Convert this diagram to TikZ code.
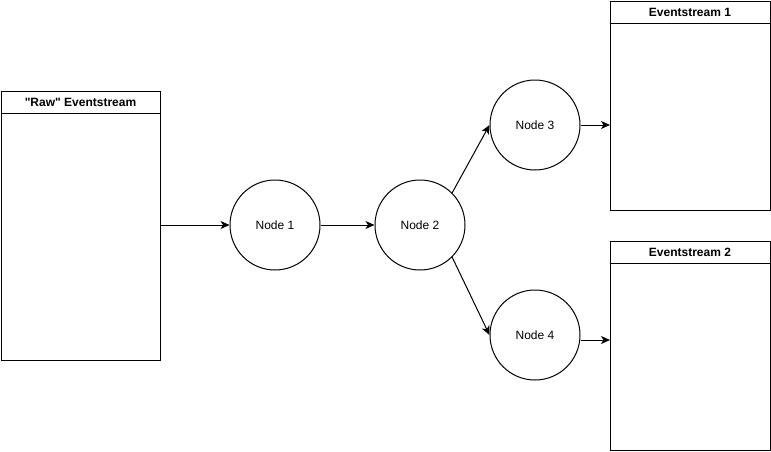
\documentclass[tikz,border=0pt]{standalone}
\usepackage{fontspec}
\setmainfont{Liberation Sans}[Ligatures=TeXOff]
\usetikzlibrary{arrows.meta,calc}
\tikzset{
  px/.style={x=1pt,y=-1pt},
  lw/.style={line width=1pt},
  circ/.style={circle,draw,lw,minimum size=90pt,inner sep=0pt,font=\fontsize{12}{14}\selectfont},
  boxframe/.style={draw,lw},
  hdr/.style={font=\bfseries\fontsize{12}{14}\selectfont,anchor=center},
  conn/.style={lw,-{Stealth[length=9pt,width=8pt,inset=2.5pt]}}
}
\begin{document}
\begin{tikzpicture}[px]
\useasboundingbox (0,0) rectangle (771,451);
% Raw eventstream
\draw[boxframe] (1,91) rectangle (160,360);
\draw[lw] (1,113) -- (160,113);
\node[hdr] (rawh) at (80.5,102) {"Raw" Eventstream};
\coordinate (raw) at (160,225);
% Eventstream 1
\draw[boxframe] (610,1) rectangle (770,210);
\draw[lw] (610,23) -- (770,23);
\node[hdr] (e1h) at (690,12) {Eventstream 1};
\coordinate (e1) at (610,125);
% Eventstream 2
\draw[boxframe] (610,241) rectangle (770,450);
\draw[lw] (610,263) -- (770,263);
\node[hdr] (e2h) at (690,252) {Eventstream 2};
\coordinate (e2) at (610,340);
% nodes
\node[circ] (n1) at (275,225) {Node 1};
\node[circ] (n2) at (420,225) {Node 2};
\node[circ] (n3) at (535,125) {Node 3};
\node[circ] (n4) at (535,335) {Node 4};
% connectors
\draw[conn] (raw) -- (n1.west);
\draw[conn] (n1.east) -- (n2.west);
\draw[conn] (n2.north east) -- (n3.west);
\draw[conn] (n2.south east) -- (n4.west);
\draw[conn] (n3.east) -- (e1);
\draw[conn] (n4.east |- e2) -- (e2);
\end{tikzpicture}
\end{document}
